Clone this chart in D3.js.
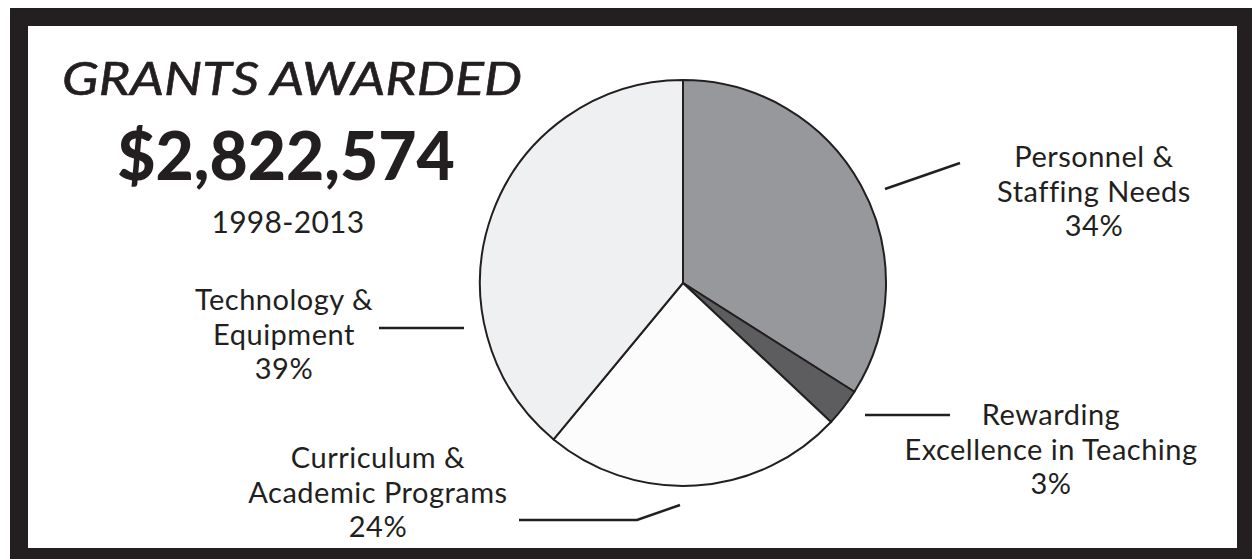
<!DOCTYPE html>
<html>
<head>
<meta charset="utf-8">
<script src="https://cdn.jsdelivr.net/npm/d3@7"></script>
<style>
  html, body { margin: 0; padding: 0; background: #ffffff; }
  svg { display: block; }
  text { font-family: "Lato", "Noto Sans", sans-serif; fill: #231f20; }
</style>
</head>
<body>
<svg id="chart" width="1252" height="559"></svg>
<script>
// ---- Data ----
const categories = ["Personnel & Staffing Needs", "Rewarding Excellence in Teaching", "Curriculum & Academic Programs", "Technology & Equipment"];
const shares = [34, 3, 24, 39];
const labelLines = [
  ["Personnel &", "Staffing Needs", "34%"],
  ["Rewarding", "Excellence in Teaching", "3%"],
  ["Curriculum &", "Academic Programs", "24%"],
  ["Technology &", "Equipment", "39%"]
];
const sliceColors = ["#97989c", "#5d5d5f", "#fcfcfc", "#eff0f2"];
const titleText = "GRANTS AWARDED";
const totalText = "$2,822,574";
const periodText = "1998-2013";

// ---- Layout ----
const W = 1252, H = 559;
const ink = "#231f20";
const cx = 683, cy = 283, R = 203;

const svg = d3.select("#chart");

// frame
svg.append("rect").attr("x", 10).attr("y", 8).attr("width", W - 10).attr("height", H - 8).attr("fill", ink);
svg.append("rect").attr("x", 28).attr("y", 26).attr("width", 1237 - 28).attr("height", 548 - 26).attr("fill", "#ffffff");

// pie
const pie = d3.pie().sort(null).value(d => d)(shares);
const arc = d3.arc().innerRadius(0).outerRadius(R);
const g = svg.append("g").attr("transform", `translate(${cx},${cy})`);
g.selectAll("path").data(pie).join("path")
  .attr("d", arc)
  .attr("fill", (d, i) => sliceColors[i])
  .attr("stroke", ink)
  .attr("stroke-width", 2)
  .attr("stroke-linejoin", "miter");

// leader lines
const leaders = [
  [[885, 189], [960, 163]],
  [[865, 415], [950, 415]],
  [[680, 505], [637, 520], [519, 520]],
  [[464, 328], [379, 328]]
];
const line = d3.line();
svg.selectAll("path.leader").data(leaders).join("path")
  .attr("class", "leader")
  .attr("d", d => line(d))
  .attr("fill", "none")
  .attr("stroke", ink)
  .attr("stroke-width", 2.5);

// labels
const labelPos = [
  { x: 1094, y: 167 },
  { x: 1051, y: 425 },
  { x: 378, y: 468 },
  { x: 284, y: 310 }
];
const lineGap = 34.5;
labelLines.forEach((lines, i) => {
  const t = svg.append("text")
    .attr("x", labelPos[i].x).attr("y", labelPos[i].y)
    .attr("text-anchor", "middle")
    .attr("font-size", 29)
    .attr("letter-spacing", 0.5);
  lines.forEach((s, j) => {
    t.append("tspan").attr("x", labelPos[i].x).attr("y", labelPos[i].y + j * lineGap).text(s);
  });
});

// title block
svg.append("text").attr("x", 292).attr("y", 95).attr("text-anchor", "middle")
  .attr("font-size", 46).attr("font-style", "italic")
  .attr("stroke", ink).attr("stroke-width", 0.6)
  .attr("textLength", 460).attr("lengthAdjust", "spacingAndGlyphs").text(titleText);
svg.append("text").attr("x", 286).attr("y", 180).attr("text-anchor", "middle")
  .attr("font-size", 66).attr("font-weight", 900).text(totalText);
svg.append("text").attr("x", 288).attr("y", 233).attr("text-anchor", "middle")
  .attr("font-size", 30).attr("letter-spacing", 0.3).text(periodText);
</script>
</body>
</html>
